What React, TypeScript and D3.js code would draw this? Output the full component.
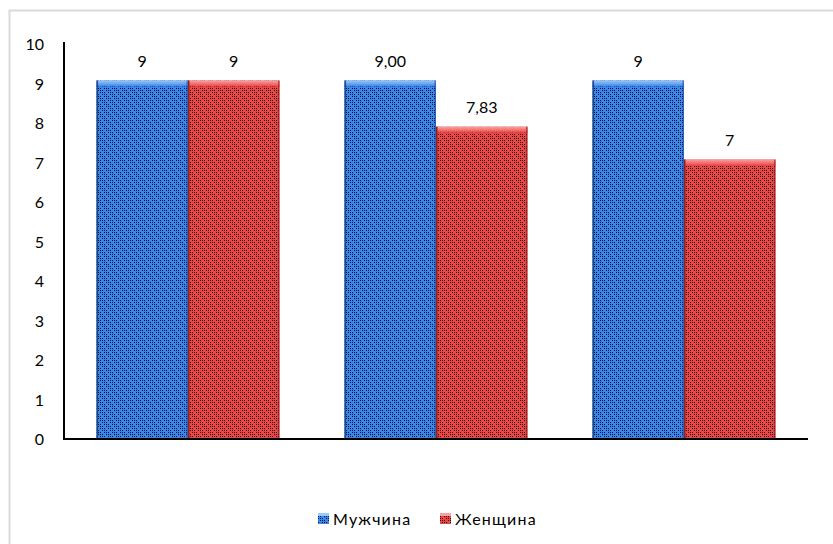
import React from "react";
import * as d3 from "d3";

const categories = ["A", "B", "C"];
const seriesNames = ["Мужчина", "Женщина"];
const menValues = [9, 9, 9];
const womenValues = [9, 7.83, 7];
const menLabels = ["9", "9,00", "9"];
const womenLabels = ["9", "7,83", "7"];
const yTicks = [0, 1, 2, 3, 4, 5, 6, 7, 8, 9, 10];

const W = 833;
const H = 544;
const left = 64;
const right = 808;
const bottom = 439;
const top = 44;
const font = "Lato, 'Open Sans', sans-serif";

const colors = [
  { base: "#3a86ee", light: "#9cc8f8", dark: "#1d4c92", id: "patBlue" },
  { base: "#ec4545", light: "#f8a3a3", dark: "#8e2222", id: "patRed" },
];

function Pattern({ id, base }: { id: string; base: string }) {
  const dots: [number, number][] = [
    [0, 0], [4, 0], [0, 4], [4, 4],
    [2, 2], [6, 6], [6, 2], [2, 6],
    [2, 0], [6, 4], [0, 6], [4, 2],
  ];
  return (
    <pattern id={id} width={8} height={8} patternUnits="userSpaceOnUse">
      <rect width={8} height={8} fill={base} />
      {dots.map(([x, y], i) => (
        <rect key={i} x={x} y={y} width={1} height={1} fill="#000" opacity={0.85} />
      ))}
    </pattern>
  );
}

export default function App() {
  const x0 = d3.scaleBand<string>().domain(categories).range([left, right]).paddingInner(0.262).paddingOuter(0.131);
  const x1 = d3.scaleBand<string>().domain(seriesNames).range([0, x0.bandwidth()]);
  const y = d3.scaleLinear().domain([0, 10]).range([bottom, top]);
  const series = [menValues, womenValues];
  const labels = [menLabels, womenLabels];

  return (
    <svg width={W} height={H} style={{ position: "absolute", left: 0, top: 0 }}>
      <defs>
        {colors.map((c) => (
          <Pattern key={c.id} id={c.id} base={c.base} />
        ))}
        {colors.map((c) => (
          <linearGradient key={c.id + "g"} id={c.id + "g"} x1="0" y1="0" x2="0" y2="1">
            <stop offset="0" stopColor={c.light} />
            <stop offset="1" stopColor={c.base} />
          </linearGradient>
        ))}
      </defs>
      <rect x={0} y={0} width={W} height={H} fill="#fff" />
      <rect x={9.5} y={10.5} width={840} height={560} fill="none" stroke="#d9d9d9" strokeWidth={2} />
      {categories.map((cat, ci) =>
        seriesNames.map((s, si) => {
          const v = series[si][ci];
          const bx = (x0(cat) as number) + (x1(s) as number);
          const bw = x1.bandwidth();
          const by = y(v) - 3;
          const bh = y(0) - by;
          const c = colors[si];
          return (
            <g key={cat + s}>
              <rect x={bx} y={by} width={bw} height={bh} fill={`url(#${c.id})`} />
              <rect x={bx} y={by} width={bw} height={6} fill={`url(#${c.id}g)`} />
              <rect x={bx} y={by} width={1.5} height={bh} fill={c.dark} />
              <rect x={bx + bw - 1.5} y={by} width={1.5} height={bh} fill={c.dark} opacity={0.6} />
              <text x={bx + bw / 2} y={by - 14} textAnchor="middle" fontFamily={font} fontSize={16} fill="#000">
                {labels[si][ci]}
              </text>
            </g>
          );
        })
      )}
      <line x1={left} x2={left} y1={top - 2} y2={bottom + 1} stroke="#000" strokeWidth={2} />
      <line x1={left - 1} x2={right} y1={bottom} y2={bottom} stroke="#000" strokeWidth={2} />
      {yTicks.map((t) => (
        <text key={t} x={44} y={y(t) + 6} textAnchor="end" fontFamily={font} fontSize={16} fill="#000">
          {t}
        </text>
      ))}
      {seriesNames.map((s, i) => {
        const lx = [318, 440][i];
        const c = colors[i];
        return (
          <g key={s}>
            <rect x={lx} y={513} width={11} height={11} fill={`url(#${c.id})`} />
            <rect x={lx} y={513} width={11} height={3} fill={c.light} />
            <text x={lx + 15} y={525} fontFamily={font} fontSize={16} letterSpacing={1.2} fill="#000">
              {s}
            </text>
          </g>
        );
      })}
    </svg>
  );
}
